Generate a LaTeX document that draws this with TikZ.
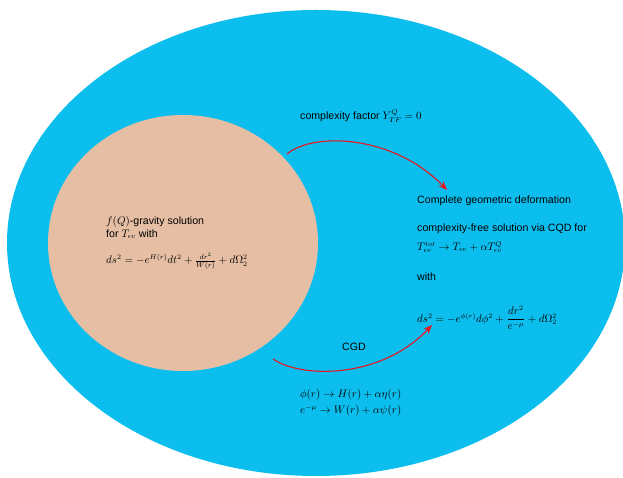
\documentclass[tikz,border=0pt]{standalone}
\usepackage{amsmath}
\usepackage{fontspec}
\setmainfont{Liberation Sans}
\usetikzlibrary{shapes.geometric,arrows.meta}
\definecolor{skyblue}{HTML}{0CBEEE}
\definecolor{peach}{HTML}{E5BEA3}
\definecolor{arrred}{HTML}{E8141E}
\tikzset{lbl/.style={anchor=west, inner sep=0pt, font=\fontsize{10.6}{12}\selectfont},
         arc/.style={draw=arrred, line width=1.1pt, -{Stealth[length=9pt,width=7pt]}}}

\begin{document}
\begin{tikzpicture}[x=1pt, y=1pt]
  \useasboundingbox (0,0) rectangle (623,478);
  \fill[white] (0,0) rectangle (623,478);

  % ---------- the two regions ----------
  \node[ellipse, fill=skyblue, minimum width=618pt, minimum height=466pt, inner sep=0pt] (world) at (316,235){};
  \node[ellipse, fill=peach, minimum width=270pt, minimum height=256pt, inner sep=0pt] (fq) at (183,235){};

  % ---------- texts ----------
  \node[lbl] (seeda) at (106,256){$f(Q)$-gravity solution};
  \node[lbl] (seedb) at (106,244){for $T_{\epsilon v}$ with};
  \node[lbl] (seedc) at (106,217){$ds^2=-e^{H(r)}dt^2+\frac{dr^2}{W(r)}+d\Omega_2^2$};
  \node[lbl] (cfac) at (300,362){complexity factor $Y^{Q}_{TF}=0$};
  \node[lbl] (cgdt) at (417,277){Complete geometric deformation};
  \node[lbl] (cfree) at (417,249){complexity-free solution via CQD for};
  \node[lbl] (tsplit) at (417,231){$T^{tot}_{\epsilon v}\rightarrow T_{\epsilon v}+\alpha T^{Q}_{\epsilon v}$};
  \node[lbl] (with) at (417,201){with};
  \node[lbl] (newds) at (417,160){$ds^2=-e^{\phi(r)}d\phi^2+\dfrac{dr^2}{e^{-\mu}}+d\Omega_2^2$};
  \node[lbl, anchor=center] (cgd) at (354,131){CGD};
  \node[lbl] (map1) at (300,83){$\phi(r)\rightarrow H(r)+\alpha\eta(r)$};
  \node[lbl] (map2) at (300,67){$e^{-\mu}\rightarrow W(r)+\alpha\psi(r)$};

  % ---------- the two arcs ----------
  \coordinate (upin) at (287,324);
  \coordinate (upout) at (447,288);
  \coordinate (lowin) at (273,119);
  \coordinate (lowout) at (432,153);
  \draw[arc] (upin) .. controls (315,347) and (395,342) .. (upout);
  \draw[arc] (lowin) .. controls (300,100) and (380,98) .. (lowout);

\end{tikzpicture}
\end{document}
